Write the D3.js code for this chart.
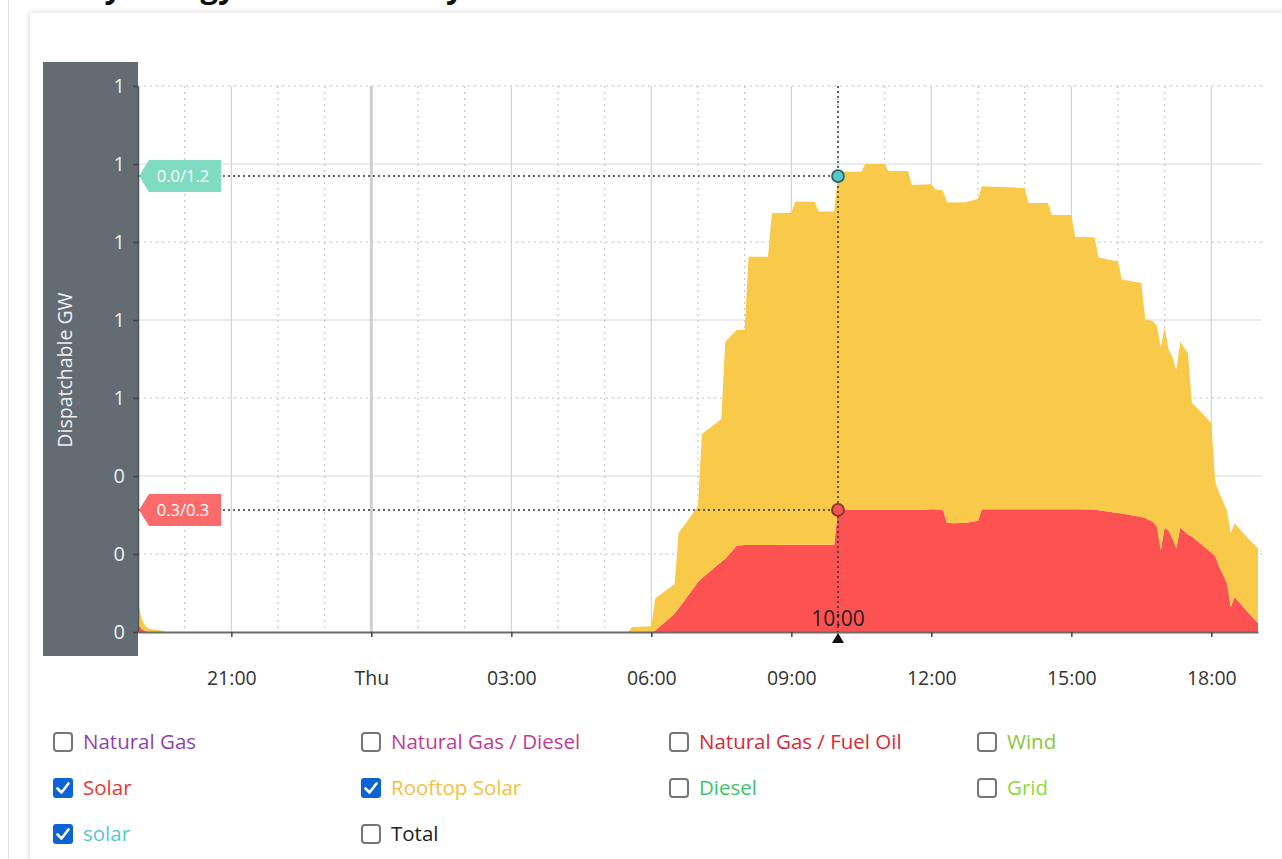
<!DOCTYPE html>
<html>
<head>
<meta charset="utf-8">
<script src="https://cdn.jsdelivr.net/npm/d3@7"></script>
<style>
  body { margin: 0; background: #fff; font-family: "Open Sans", "Noto Sans", sans-serif; overflow: hidden; }
  #card { position: absolute; left: 30px; top: 13px; width: 1300px; height: 900px; background: #fff;
          box-shadow: 0 0 6px rgba(0,0,0,0.18); }
  #edge { position: absolute; left: 8px; top: 0; width: 1px; height: 859px; background: #e2e2e2; }
  svg { position: absolute; left: 0; top: 0; }
</style>
</head>
<body>
<div id="edge"></div>
<div id="card"></div>
<svg id="chart" width="1282" height="859"></svg>
<script>
// rooftop solar is half hourly, utility solar is 5 minute-ish, so times are irregular
var times = [
  "01 19:00","01 19:05","01 19:10","01 19:15","01 19:30","01 19:35","02 05:30","02 05:35","02 06:00","02 06:05",
  "02 06:30","02 06:35","02 07:00","02 07:05","02 07:30","02 07:35","02 07:50","02 08:00","02 08:05","02 08:30",
  "02 08:35","02 09:00","02 09:05","02 09:30","02 09:35","02 09:55","02 10:00","02 10:05","02 10:30","02 10:35",
  "02 11:00","02 11:05","02 11:30","02 11:35","02 12:00","02 12:05","02 12:15","02 12:20","02 12:30","02 12:45",
  "02 13:00","02 13:05","02 13:30","02 14:00","02 14:05","02 14:30","02 14:35","02 15:00","02 15:05","02 15:30",
  "02 15:35","02 16:00","02 16:05","02 16:30","02 16:35","02 16:45","02 16:50","02 16:55","02 17:00","02 17:05",
  "02 17:10","02 17:15","02 17:20","02 17:30","02 17:35","02 17:45","02 18:00","02 18:05","02 18:10","02 18:20",
  "02 18:25","02 18:30","02 18:45","02 19:00"
];
var solarGW = [
  0.020,0.008,0.002,0,0,0,0,0,0,0.004,
  0.047,0.060,0.128,0.138,0.180,0.188,0.222,0.223,0.223,0.223,
  0.223,0.224,0.224,0.224,0.224,0.224,0.313,0.313,0.313,0.313,
  0.313,0.313,0.313,0.313,0.315,0.315,0.312,0.280,0.279,0.280,
  0.285,0.315,0.315,0.315,0.315,0.315,0.315,0.315,0.315,0.314,
  0.312,0.305,0.304,0.295,0.292,0.282,0.270,0.210,0.267,0.260,
  0.240,0.215,0.267,0.250,0.245,0.228,0.203,0.195,0.167,0.126,
  0.064,0.090,0.055,0.023
];
var rooftopGW = [
  0.055,0.025,0.012,0.008,0.004,0,0,0.013,0.015,0.082,
  0.076,0.194,0.194,0.370,0.366,0.556,0.553,0.552,0.739,0.739,
  0.851,0.851,0.879,0.879,0.854,0.854,0.856,0.867,0.867,0.887,
  0.887,0.869,0.869,0.833,0.833,0.820,0.820,0.822,0.822,0.822,
  0.826,0.828,0.826,0.823,0.785,0.785,0.754,0.754,0.698,0.698,
  0.648,0.645,0.600,0.600,0.510,0.515,0.515,0.520,0.513,0.465,
  0.465,0.457,0.477,0.465,0.342,0.340,0.333,0.190,0.190,0.187,
  0.190,0.189,0.190,0.192
];
var smallSolarGW = [
  0,0,0,0,0,0,0,0,0,0,
  0,0,0,0,0,0,0,0,0,0,
  0,0,0,0,0,0,0,0,0,0,
  0,0,0,0,0,0,0,0,0,0,
  0,0,0,0,0,0,0,0,0,0,
  0,0,0,0,0,0,0,0,0,0,
  0,0,0,0,0,0,0,0,0,0,
  0,0,0,0
];
var yTicks = [0, 0.2, 0.4, 0.6, 0.8, 1.0, 1.2, 1.4];
var hoverTime = "02 10:00";

var fuelNames = ["Natural Gas","Natural Gas / Diesel","Natural Gas / Fuel Oil","Wind",
                 "Solar","Rooftop Solar","Diesel","Grid","solar","Total"];
var fuelColours = ["#8e44ad","#c13c98","#d8293b","#8cc63f",
                   "#e53935","#f2c23c","#3ec46a","#93d63b","#55c8cc","#222222"];
var fuelChecked = [false,false,false,false,true,true,false,false,true,false];

var areaColours = { "Solar": "#fd5252", "Rooftop Solar": "#f9ca4a", "solar": "#55c8cc" };

(function() {
var parse = function(s) { return d3.timeParse("%Y-%m-%d %H:%M")("2023-03-" + s); };

var rows = times.map(function(t, i) {
    return { time: parse(t), "Solar": solarGW[i], "Rooftop Solar": rooftopGW[i], "solar": smallSolarGW[i] };
});

var svg = d3.select("#chart");
var pLeft = 138, pRight = 1258, pTop = 86, pBottom = 632;

var x = d3.scaleTime().domain([parse("01 19:00"), parse("02 19:00")]).range([pLeft, pRight]);
var y = d3.scaleLinear().domain([0, 1.4]).range([pBottom, pTop]);

// cut off title, only descenders peek in
svg.append("text").attr("x", 44).attr("y", -2)
    .style("font-size", "31px").style("font-weight", "bold").attr("fill", "#111")
    .text("Daily Energy Generation by Source");

// y axis panel
svg.append("rect").attr("x", 43).attr("y", 62).attr("width", 95).attr("height", 594).attr("fill", "#636b73");
svg.append("text")
    .attr("transform", "translate(72,370) rotate(-90)")
    .attr("text-anchor", "middle")
    .style("font-size", "19.5px").attr("fill", "#eef0f2")
    .text("Dispatchable GW");

// grid - horizontal
var grid = svg.append("g");
yTicks.forEach(function(v) {
    if (v === 0) return;
    var solid = (Math.round(v * 10) % 4 === 0);
    grid.append("line").attr("x1", pLeft).attr("x2", pRight + 4).attr("y1", y(v)).attr("y2", y(v))
        .attr("stroke", solid ? "#d9d9d9" : "#c4c4c4")
        .attr("stroke-width", 1.2)
        .attr("stroke-dasharray", solid ? null : "2,4");
});

// grid - vertical, hourly dotted, 3 hourly solid, midnight thicker
x.ticks(d3.timeHour.every(1)).forEach(function(t) {
    var px = x(t);
    if (px <= pLeft + 1 || px >= pRight - 1) return;
    var h = t.getHours();
    var line = grid.append("line").attr("x1", px).attr("x2", px).attr("y1", pTop).attr("y2", pBottom);
    if (h === 0) line.attr("stroke", "#cfcfcf").attr("stroke-width", 3);
    else if (h % 3 === 0) line.attr("stroke", "#d6d6d6").attr("stroke-width", 1.3);
    else line.attr("stroke", "#c8c8c8").attr("stroke-width", 1.2).attr("stroke-dasharray", "2,4");
});

// stacked areas
var keys = ["Solar", "Rooftop Solar", "solar"];
var stacked = d3.stack().keys(keys)(rows);
var area = d3.area()
    .x(function(d) { return x(d.data.time); })
    .y0(function(d) { return y(d[0]); })
    .y1(function(d) { return y(d[1]); });

svg.append("g").selectAll("path").data(stacked).join("path")
    .attr("d", area)
    .attr("fill", function(d) { return areaColours[d.key]; });

// x axis
var fmtTick = function(d) { return d.getHours() === 0 ? d3.timeFormat("%a")(d) : d3.timeFormat("%H:%M")(d); };
var xAxis = svg.append("g").attr("transform", "translate(0," + pBottom + ")")
    .call(d3.axisBottom(x).ticks(d3.timeHour.every(3)).tickFormat(fmtTick).tickSizeInner(5).tickSizeOuter(0).tickPadding(34));
xAxis.select(".domain").attr("stroke", "#6b6b6b").attr("stroke-width", 2);
xAxis.selectAll(".tick line").attr("stroke", "#444").attr("stroke-width", 1.5);
xAxis.selectAll("text").style("font-size", "19.5px").style("font-family", "'Open Sans', sans-serif").attr("fill", "#333");

// y axis
var yAxis = svg.append("g").attr("transform", "translate(" + pLeft + ",0)")
    .call(d3.axisLeft(y).tickValues(yTicks).tickFormat(d3.format(".0f")).tickSizeInner(5).tickSizeOuter(0).tickPadding(8));
yAxis.select(".domain").attr("stroke", "#4f565c").attr("stroke-width", 1.5);
yAxis.selectAll(".tick line").attr("stroke", "#3d4247").attr("stroke-width", 1.5);
yAxis.selectAll("text").style("font-size", "20px").style("font-family", "'Open Sans', sans-serif").attr("fill", "#eceef0");

// hover crosshair at 10:00
var hi = times.indexOf(hoverTime);
var hx = x(rows[hi].time);
var fmt1 = d3.format(".1f");
var hover = svg.append("g");
hover.append("line").attr("x1", hx).attr("x2", hx).attr("y1", pTop).attr("y2", pBottom)
    .attr("stroke", "#333").attr("stroke-width", 1.5).attr("stroke-dasharray", "2,3");

var markers = [
    { key: "solar", tag: "#7fdcc1", dot: "#55c8cc", ring: "#2f5f63" },
    { key: "Solar", tag: "#fb6b6b", dot: "#f25454", ring: "#8a3030" }
];
markers.forEach(function(m) {
    var s = stacked[keys.indexOf(m.key)][hi];
    var cy = y(s[1]);
    hover.append("line").attr("x1", pLeft).attr("x2", hx).attr("y1", cy).attr("y2", cy)
        .attr("stroke", "#333").attr("stroke-width", 1.5).attr("stroke-dasharray", "2,3");
    hover.append("circle").attr("cx", hx).attr("cy", cy).attr("r", 6)
        .attr("fill", m.dot).attr("stroke", m.ring).attr("stroke-width", 1.8);
    var tx = 139;
    hover.append("path")
        .attr("d", "M" + tx + "," + cy + "L" + (tx + 10) + "," + (cy - 16) + "L" + (tx + 82) + "," + (cy - 16) +
                   "L" + (tx + 82) + "," + (cy + 16) + "L" + (tx + 10) + "," + (cy + 16) + "Z")
        .attr("fill", m.tag);
    hover.append("text").attr("x", tx + 44).attr("y", cy + 6).attr("text-anchor", "middle")
        .style("font-size", "16.5px").attr("fill", "#fff")
        .text(fmt1(s[1] - s[0]) + "/" + fmt1(s[1]));
});

hover.append("text").attr("x", hx).attr("y", 626).attr("text-anchor", "middle")
    .style("font-size", "21px").attr("fill", "#222").text(d3.timeFormat("%H:%M")(rows[hi].time));
hover.append("path").attr("d", "M" + hx + "," + (pBottom + 1) + "L" + (hx - 6) + "," + (pBottom + 11) + "L" + (hx + 6) + "," + (pBottom + 11) + "Z")
    .attr("fill", "#111");

// legend checkboxes
var legend = svg.append("g");
fuelNames.forEach(function(name, i) {
    var col = i % 4, row = Math.floor(i / 4);
    var lx = 53 + col * 308, ly = 742 + row * 46;
    var g = legend.append("g").attr("transform", "translate(" + lx + "," + ly + ")");
    if (fuelChecked[i]) {
        g.append("rect").attr("x", 0).attr("y", -10).attr("width", 20).attr("height", 20).attr("rx", 3)
            .attr("fill", "#0b63d6");
        g.append("path").attr("d", "M4.5,0.5 L8.5,4.5 L15.5,-4.5").attr("fill", "none")
            .attr("stroke", "#fff").attr("stroke-width", 2.6).attr("stroke-linecap", "round").attr("stroke-linejoin", "round");
    } else {
        g.append("rect").attr("x", 1).attr("y", -9).attr("width", 18).attr("height", 18).attr("rx", 3)
            .attr("fill", "#fff").attr("stroke", "#767676").attr("stroke-width", 2);
    }
    g.append("text").attr("x", 30).attr("y", 7).style("font-size", "20.5px")
        .attr("fill", fuelColours[i]).text(name);
});
})();
</script>
</body>
</html>
